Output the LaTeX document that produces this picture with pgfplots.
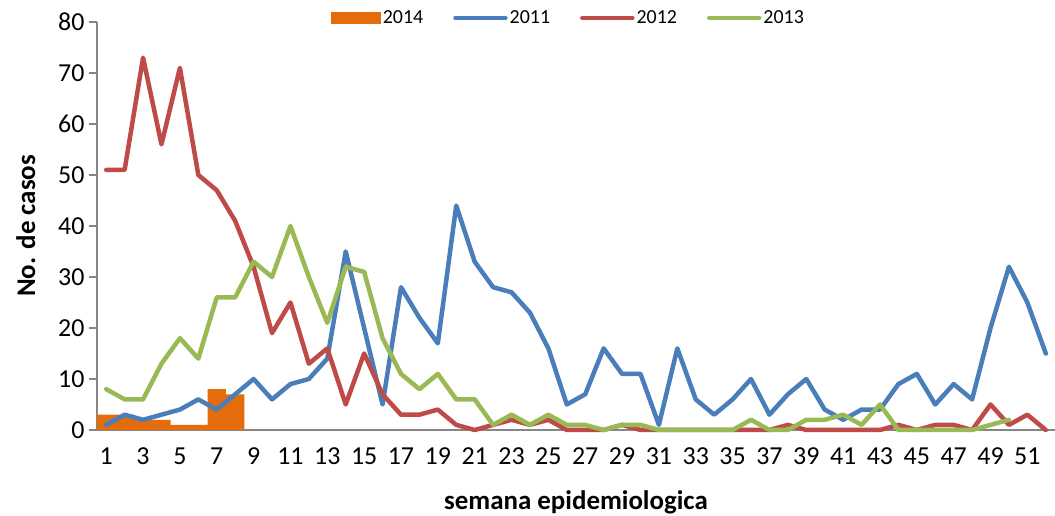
\documentclass[border=0pt]{standalone}
\usepackage{pgfplots}
\pgfplotsset{compat=1.18}
\usepackage{fontspec}
\setmainfont{Carlito}
\usetikzlibrary{calc}
\definecolor{c2011}{HTML}{4A7EBB}
\definecolor{c2012}{HTML}{BE4B48}
\definecolor{c2013}{HTML}{98B954}
\definecolor{c2014}{HTML}{E46C0A}
\definecolor{axgray}{HTML}{868686}
\begin{document}
\begin{tikzpicture}
\begin{axis}[
  name=ax,
  scale only axis,
  width=958bp, height=408bp,
  xmin=0.5, xmax=52.5,
  ymin=0, ymax=80,
  axis lines*=left,
  axis line style={axgray, line width=1.2bp},
  xtick={1,3,...,51},
  ytick={0,10,...,80},
  major x tick style={draw=none},
  major y tick style={axgray, line width=1.2bp},
  tick align=outside,
  major tick length=8bp,
  tick label style={font=\fontsize{26}{30}\selectfont},
  /pgf/number format/assume math mode=true,
  yticklabel style={xshift=-1bp},
  xticklabel style={yshift=-6bp},
  xlabel={semana epidemiologica},
  ylabel={No. de casos},
  xlabel style={font=\bfseries\fontsize{27}{30}\selectfont, at={(axis description cs:0.5,-0.196)}, anchor=base},
  ylabel style={font=\bfseries\fontsize{27}{30}\selectfont, at={(axis description cs:-0.0647,0.5)}, anchor=base},
  legend columns=4,
  legend style={at={(axis description cs:0.492,1.01)}, anchor=center, draw=none, fill=none,
    font=\fontsize{20}{24}\selectfont, nodes={inner sep=2bp},
    /tikz/every even column/.append style={column sep=28bp}},
  clip=false,
]
\addplot[ybar, bar width=1, bar shift=0, fill=c2014, draw=none,
  legend image code/.code={\fill[c2014] (0bp,-6bp) rectangle (50bp,6bp);}]
  coordinates {(1,3) (2,3) (3,2) (4,2) (5,1) (6,1) (7,8) (8,7)};
\addlegendentry{2014}
\addplot[c2011, line width=4.5bp, line join=round, line cap=round,
  legend image code/.code={\draw[c2011, line width=4.5bp, line cap=round] (0bp,0bp) -- (50bp,0bp);}]
  coordinates {(1,1) (2,3) (3,2) (4,3) (5,4) (6,6) (7,4) (8,7) (9,10) (10,6)
  (11,9) (12,10) (13,14) (14,35) (15,20) (16,5) (17,28) (18,22) (19,17) (20,44)
  (21,33) (22,28) (23,27) (24,23) (25,16) (26,5) (27,7) (28,16) (29,11) (30,11)
  (31,1) (32,16) (33,6) (34,3) (35,6) (36,10) (37,3) (38,7) (39,10) (40,4)
  (41,2) (42,4) (43,4) (44,9) (45,11) (46,5) (47,9) (48,6) (49,20) (50,32)
  (51,25) (52,15)};
\addlegendentry{2011}
\addplot[c2012, line width=4.5bp, line join=round, line cap=round,
  legend image code/.code={\draw[c2012, line width=4.5bp, line cap=round] (0bp,0bp) -- (50bp,0bp);}]
  coordinates {(1,51) (2,51) (3,73) (4,56) (5,71) (6,50) (7,47) (8,41) (9,32) (10,19)
  (11,25) (12,13) (13,16) (14,5) (15,15) (16,7) (17,3) (18,3) (19,4) (20,1)
  (21,0) (22,1) (23,2) (24,1) (25,2) (26,0) (27,0) (28,0) (29,1) (30,0)
  (31,0) (32,0) (33,0) (34,0) (35,0) (36,0) (37,0) (38,1) (39,0) (40,0)
  (41,0) (42,0) (43,0) (44,1) (45,0) (46,1) (47,1) (48,0) (49,5) (50,1)
  (51,3) (52,0)};
\addlegendentry{2012}
\addplot[c2013, line width=4.5bp, line join=round, line cap=round,
  legend image code/.code={\draw[c2013, line width=4.5bp, line cap=round] (0bp,0bp) -- (50bp,0bp);}]
  coordinates {(1,8) (2,6) (3,6) (4,13) (5,18) (6,14) (7,26) (8,26) (9,33) (10,30)
  (11,40) (12,30) (13,21) (14,32) (15,31) (16,18) (17,11) (18,8) (19,11) (20,6)
  (21,6) (22,1) (23,3) (24,1) (25,3) (26,1) (27,1) (28,0) (29,1) (30,1)
  (31,0) (32,0) (33,0) (34,0) (35,0) (36,2) (37,0) (38,0) (39,2) (40,2)
  (41,3) (42,1) (43,5) (44,0) (45,0) (46,0) (47,0) (48,0) (49,1) (50,2)};
\addlegendentry{2013}
\end{axis}
\pgfresetboundingbox
\path[use as bounding box] ($(ax.south west)+(-97bp,-86bp)$) rectangle ($(ax.north east)+(0bp,22bp)$);
\end{tikzpicture}
\end{document}
